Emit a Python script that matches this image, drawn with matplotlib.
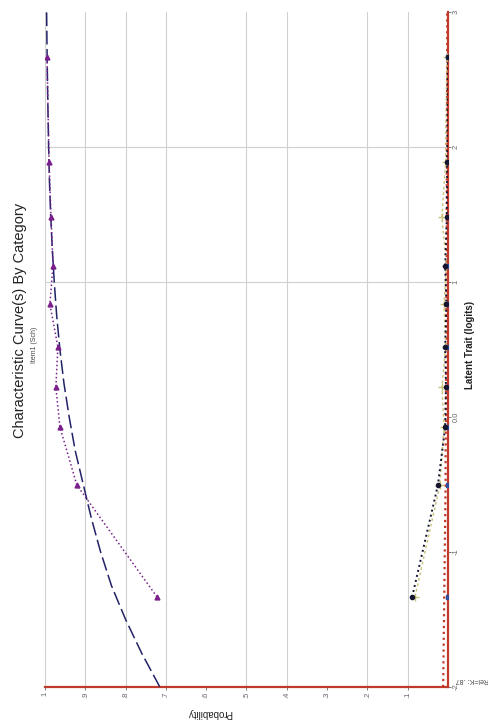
import matplotlib.pyplot as plt
import numpy as np

################################# Data ####################################
# latent trait (logits) and category probabilities
theta_model = [-2.0, -1.75, -1.5, -1.25, -1.0, -0.75, -0.5, -0.25, 0.0, 0.25,
               0.5, 0.75, 1.0, 1.25, 1.5, 1.75, 2.0, 2.5, 3.0]
p_model_high = [0.715, 0.760, 0.800, 0.835, 0.862, 0.885, 0.905, 0.925, 0.940, 0.953,
                0.963, 0.971, 0.977, 0.982, 0.986, 0.989, 0.991, 0.994, 0.996]
p_model_low = [0.012, 0.011, 0.010, 0.009, 0.008, 0.007, 0.006, 0.006, 0.005, 0.005,
               0.004, 0.004, 0.004, 0.003, 0.003, 0.003, 0.003, 0.002, 0.002]

theta_obs = [-1.333, -0.504, -0.074, 0.222, 0.519, 0.837, 1.119, 1.481, 1.889, 2.667]
p_obs_high = [0.722, 0.921, 0.963, 0.973, 0.968, 0.988, 0.980, 0.985, 0.990, 0.995]
p_obs_black = [0.089, 0.025, 0.007, 0.005, 0.007, 0.004, 0.007, 0.003, 0.002, 0.0]
p_obs_yellow = [0.082, 0.020, 0.010, 0.015, 0.006, 0.010, 0.004, 0.015, 0.006, 0.003]
p_obs_blue = [0.0, 0.0, 0.0, 0.0, 0.0, 0.0, 0.0, 0.0, 0.0, 0.0]

prob_ticks = [1.0, 0.9, 0.8, 0.7, 0.6, 0.5, 0.4, 0.3, 0.2, 0.1]
prob_labels = ["1", ".9", ".8", ".7", ".6", ".5", ".4", ".3", ".2", ".1"]
prob_grid = [1.0, 0.9, 0.8, 0.7, 0.5, 0.4, 0.2, 0.1]
theta_ticks = [-2, -1, 0, 1, 2, 3]
theta_labels = ["-2", "-1", "0.0", "1", "2", "3"]
theta_grid = [1, 2]

################################# Figure (drawn turned 90 deg) ############
plt.rcParams['font.family'] = ['Liberation Sans', 'DejaVu Sans']
W, H = 488, 722
fig = plt.figure(figsize=(W / 100, H / 100), dpi=100)
ax = fig.add_axes([45 / W, 35 / H, (448 - 45) / W, (710 - 35) / H])

red = "#c0392b"
for g in prob_grid:
    ax.axvline(g, color="#d0d0d0", lw=0.8, zorder=0)
for g in theta_grid:
    ax.axhline(g, color="#d0d0d0", lw=0.8, zorder=0)

# lower categories
ax.plot(p_model_low, theta_model, color=red, ls=":", lw=1.6, zorder=3)
ax.plot(p_obs_blue, theta_obs, color="#2d4f9e", ls="none", marker="s", ms=3.5, zorder=4)
ax.plot(p_obs_yellow, theta_obs, color="#c9c27a", ls=(0, (2, 2)), lw=1,
        marker="+", ms=6, zorder=3)
ax.plot(p_obs_black, theta_obs, color="#151530", ls=":", lw=1.4,
        marker="o", ms=3, zorder=5)

# upper category
ax.plot(p_model_high, theta_model, color="#222266", ls=(0, (9, 3)), lw=1.1, zorder=3)
ax.plot(p_obs_high, theta_obs, color="#7a1f8c", ls=":", lw=1.1,
        marker="^", ms=3.5, zorder=4)

ax.set_xlim(1.0, 0.0)
ax.set_ylim(-2, 3)

for s in ["left", "top"]:
    ax.spines[s].set_visible(False)
for s in ["right", "bottom"]:
    ax.spines[s].set_color(red)
    ax.spines[s].set_linewidth(1.6)
ax.yaxis.tick_right()
ax.set_xticks(prob_ticks)
ax.set_xticklabels(prob_labels, rotation=90, fontsize=5.5, color="#444444")
ax.set_yticks(theta_ticks)
ax.set_yticklabels(theta_labels, rotation=90, fontsize=5.5, color="#444444", va="center")
ax.tick_params(length=2, width=0.6, colors="#666666", pad=1.5)

fig.text(20 / W, 1 - 320 / H, "Characteristic Curve(s) By Category", rotation=90,
         fontsize=10.5, ha="center", va="center", color="#222222")
fig.text(35 / W, 1 - 345 / H, "Item1 (Sch)", rotation=90,
         fontsize=5, ha="center", va="center", color="#444444")
fig.text(470 / W, 1 - 345 / H, "Latent Trait (logits)", rotation=90,
         fontsize=7, fontweight="bold", ha="center", va="center", color="#222222")
fig.text(210 / W, 1 - 713 / H, "Probability", rotation=180,
         fontsize=7, ha="center", va="center", color="#222222")
fig.text(472 / W, 1 - 680 / H, "Rel=K: .87", rotation=180,
         fontsize=5, ha="center", va="center", color="#444444")

fig.savefig("out.png", dpi=100)
